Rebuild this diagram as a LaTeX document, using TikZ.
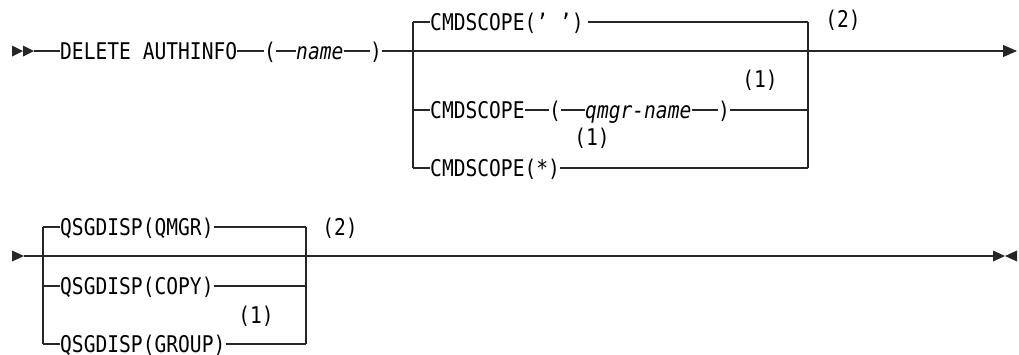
\documentclass[tikz,border=0pt]{standalone}
\usepackage{fontspec}
\setmonofont[FakeStretch=0.852]{DejaVu Sans Mono}
\usepackage{tikz}
\usetikzlibrary{positioning, arrows.meta, calc}

\tikzset{
  kw/.style={font=\ttfamily\fontsize{23}{24}\selectfont, inner sep=0pt, text height=16.8pt, text depth=0pt, anchor=west},
  var/.style={kw, font=\ttfamily\itshape\fontsize{23}{24}\selectfont},
  note/.style={font=\ttfamily\fontsize{23}{24}\selectfont, inner sep=0pt},
  rail/.style={line width=1.1pt, draw=black!85},
}

\begin{document}
\begin{tikzpicture}[x=1pt, y=-1pt]
      \useasboundingbox (0,0) rectangle (1019,354);

      % first line
      \coordinate (s1) at (12,51);
      \node[kw] (del) at (60,51) {DELETE AUTHINFO};
      \node[kw] (lp1) at (264,51) {(};
      \node[var] (nm) at (296,51) {name};
      \node[kw] (rp1) at (370,51) {)};
      \coordinate (e1) at (1017,51);

      \coordinate (j1t) at (413,22);
      \coordinate (j1m) at (413,110);
      \coordinate (j1b) at (413,168);
      \coordinate (k1t) at (808,22);
      \coordinate (k1m) at (808,110);
      \coordinate (k1b) at (808,168);

      \node[kw] (cs1) at (430,22) {CMDSCOPE(’ ’)};
      \node[kw] (cs2) at (430,110) {CMDSCOPE};
      \node[kw] (lp2) at (549,110) {(};
      \node[var] (qm) at (585,110) {qmgr-name};
      \node[kw] (rp2) at (718,110) {)};
      \node[kw] (cs3) at (430,168) {CMDSCOPE(*)};

      \node[note] (n1a) at (760,80) {(1)};
      \node[note] (n1b) at (592,138) {(1)};
      \node[note] (n2a) at (843,20) {(2)};

      \fill[black!85] (s1) -- ++(0,5.5) -- ++(11,-5.5) -- ++(-11,-5.5) -- cycle;
      \fill[black!85] ($(s1)+(11,0)$) -- ++(0,5.5) -- ++(11,-5.5) -- ++(-11,-5.5) -- cycle;

      \draw[rail] ($(s1)+(22,0)$) -- (del);
      \draw[rail] (del) -- (lp1);
      \draw[rail] (lp1) -- (nm);
      \draw[rail] (nm) -- (rp1);
      \draw[rail, -{Triangle[length=14pt, width=12pt]}] (rp1) -- (e1);

      \draw[rail] (j1t) -- (j1b);
      \draw[rail] (k1t) -- (k1b);
      \draw[rail] (j1t) -- (cs1);
      \draw[rail] ($(cs1.east)+(4,0)$) -- (k1t);
      \draw[rail] (j1m) -- (cs2);
      \draw[rail] (cs2) -- (lp2);
      \draw[rail] (lp2) -- (qm);
      \draw[rail] (qm) -- (rp2);
      \draw[rail] (rp2) -- (k1m);
      \draw[rail] (j1b) -- (cs3);
      \draw[rail] (cs3) -- (k1b);

      % second line
      \coordinate (s2) at (12,256);
      \coordinate (e2) at (993,256);
      \coordinate (j2t) at (43,227);
      \coordinate (j2m) at (43,286);
      \coordinate (j2b) at (43,344);
      \coordinate (k2t) at (306,227);
      \coordinate (k2m) at (306,286);
      \coordinate (k2b) at (306,344);

      \node[kw] (qs1) at (60,227) {QSGDISP(QMGR)};
      \node[kw] (qs2) at (60,286) {QSGDISP(COPY)};
      \node[kw] (qs3) at (60,344) {QSGDISP(GROUP)};

      \node[note] (n1c) at (256,316) {(1)};
      \node[note] (n2b) at (340,228) {(2)};

      \fill[black!85] (s2) -- ++(0,5.5) -- ++(12,-5.5) -- ++(-12,-5.5) -- cycle;
      \fill[black!85] (e2) -- ++(0,5.5) -- ++(12,-5.5) -- ++(-12,-5.5) -- cycle;
      \fill[black!85] ($(e2)+(24,0)$) -- ++(0,5.5) -- ++(-12,-5.5) -- ++(12,-5.5) -- cycle;

      \draw[rail] ($(s2)+(12,0)$) -- (e2);
      \draw[rail] (j2t) -- (j2b);
      \draw[rail] (k2t) -- (k2b);
      \draw[rail] (j2t) -- (qs1);
      \draw[rail] (qs1) -- (k2t);
      \draw[rail] (j2m) -- (qs2);
      \draw[rail] (qs2) -- (k2m);
      \draw[rail] (j2b) -- (qs3);
      \draw[rail] (qs3) -- (k2b);
\end{tikzpicture}
\end{document}
